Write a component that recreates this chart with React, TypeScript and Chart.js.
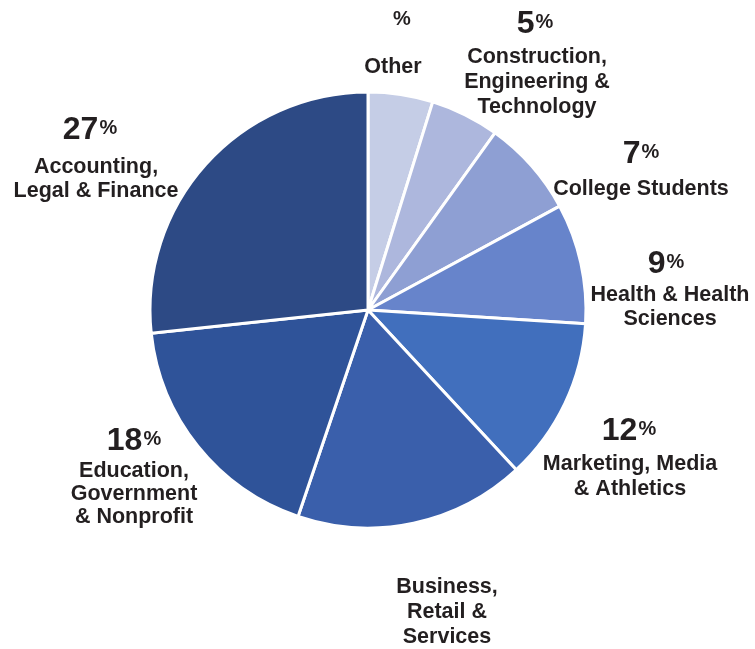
import React, { useEffect, useRef } from "react";
import { Chart, registerables } from "chart.js";

Chart.register(...registerables);

// ---- data ----
const categories = [
  "Other",
  "Construction,\nEngineering &\nTechnology",
  "College Students",
  "Health & Health\nSciences",
  "Marketing, Media\n& Athletics",
  "Business,\nRetail &\nServices",
  "Education,\nGovernment\n& Nonprofit",
  "Accounting,\nLegal & Finance",
];
const shares = [4.8, 5.1, 7.2, 8.9, 12.1, 17.1, 18.1, 26.7];
// how the percentage is shown for each slice: "full" = number + %, "pct" = only %, "none" = nothing
const valueDisplay = ["pct", "full", "full", "full", "full", "none", "full", "full"];
const colors = [
  "#c5cde6",
  "#adb7dd",
  "#8e9fd3",
  "#6784cb",
  "#416fbd",
  "#3a5fab",
  "#2f5399",
  "#2d4a85",
];

// ---- label layout (positions only) ----
const labelLayout = [
  { numX: 402, numY: 25, nameX: 393, nameY: 73, lh: 25 },
  { numX: 535, numY: 33, nameX: 537, nameY: 63, lh: 25 },
  { numX: 641, numY: 163, nameX: 641, nameY: 195, lh: 25 },
  { numX: 666, numY: 273, nameX: 670, nameY: 301, lh: 24 },
  { numX: 629, numY: 440, nameX: 630, nameY: 470, lh: 25 },
  { numX: 447, numY: 560, nameX: 447, nameY: 593, lh: 25 },
  { numX: 134, numY: 450, nameX: 134, nameY: 477, lh: 23 },
  { numX: 90, numY: 139, nameX: 96, nameY: 173, lh: 24 },
];

const FONT = "'Liberation Sans', Arial, Helvetica, sans-serif";
const TEXT_COLOR = "#231f20";
const NAME_FONT = `bold 21.5px ${FONT}`;

const labelPlugin = {
  id: "sliceLabels",
  afterDraw(chart: any) {
    const ctx = chart.ctx as CanvasRenderingContext2D;
    const data = chart.data.datasets[0].data as number[];
    const total = data.reduce((a, b) => a + b, 0);
    ctx.save();
    ctx.fillStyle = TEXT_COLOR;
    ctx.textBaseline = "alphabetic";
    data.forEach((v, i) => {
      const lay = labelLayout[i];
      const mode = valueDisplay[i];
      const num = String(Math.round((v / total) * 100));
      if (mode === "full") {
        ctx.font = `bold 32px ${FONT}`;
        const wn = ctx.measureText(num).width;
        ctx.font = `bold 20px ${FONT}`;
        const wp = ctx.measureText("%").width;
        const start = lay.numX - (wn + wp + 1) / 2;
        ctx.textAlign = "left";
        ctx.font = `bold 32px ${FONT}`;
        ctx.fillText(num, start, lay.numY);
        ctx.font = `bold 20px ${FONT}`;
        ctx.fillText("%", start + wn + 1, lay.numY - 5);
      } else if (mode === "pct") {
        ctx.font = `bold 20px ${FONT}`;
        ctx.textAlign = "center";
        ctx.fillText("%", lay.numX, lay.numY);
      }
      ctx.font = NAME_FONT;
      ctx.textAlign = "center";
      const lines = (chart.data.labels[i] as string).split("\n");
      lines.forEach((ln, k) => {
        ctx.fillText(ln, lay.nameX, lay.nameY + k * lay.lh);
      });
    });
    ctx.restore();
  },
};

export default function App() {
  const canvasRef = useRef<HTMLCanvasElement | null>(null);

  useEffect(() => {
    if (!canvasRef.current) return;
    const chart = new Chart(canvasRef.current, {
      type: "pie",
      data: {
        labels: categories,
        datasets: [
          {
            data: shares,
            backgroundColor: colors,
            borderColor: "#ffffff",
            borderWidth: 3,
            hoverOffset: 0,
            radius: 218,
          } as any,
        ],
      },
      options: {
        responsive: false,
        animation: false,
        events: [],
        layout: { padding: { left: 150, top: 92, right: 169, bottom: 121 } },
        plugins: {
          legend: { display: false },
          tooltip: { enabled: false },
        },
      },
      plugins: [labelPlugin],
    });
    return () => chart.destroy();
  }, []);

  return (
    <div
      style={{
        position: "absolute",
        left: 0,
        top: 0,
        width: 755,
        height: 649,
        background: "#ffffff",
      }}
    >
      <canvas ref={canvasRef} width={755} height={649} style={{ width: 755, height: 649 }} />
    </div>
  );
}
